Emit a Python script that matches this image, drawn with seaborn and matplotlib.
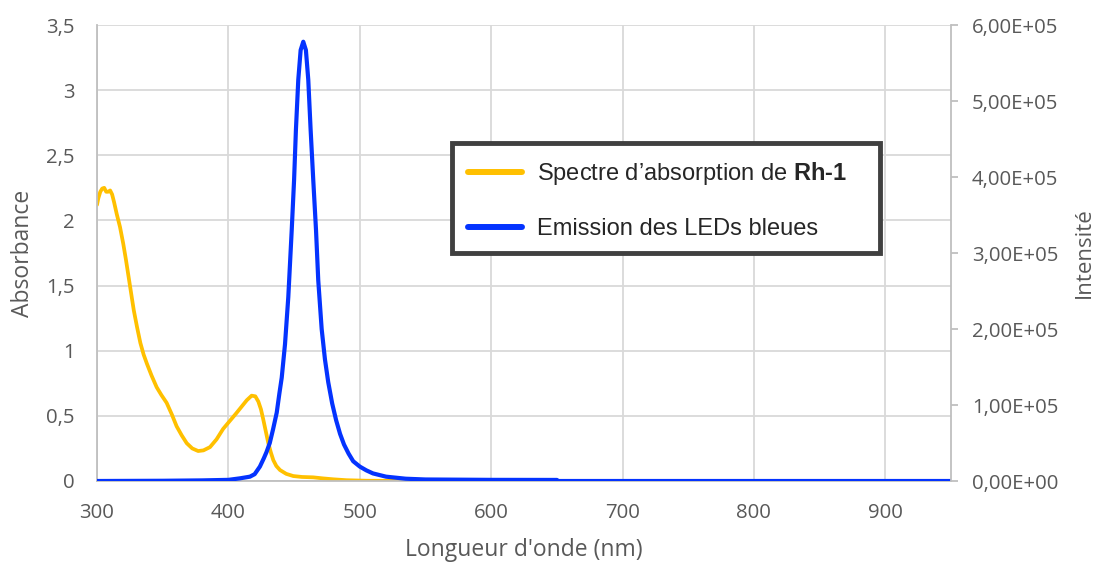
import numpy as np
import pandas as pd
import matplotlib
matplotlib.use("Agg")
import matplotlib.pyplot as plt
from matplotlib.lines import Line2D
from matplotlib.patches import Rectangle
from matplotlib.ticker import FuncFormatter, MultipleLocator
import seaborn as sns

# ---- data ----
abs_x = [300, 301, 302.5, 304, 305.5, 307, 308.5, 310, 311.5, 313, 315, 317.5,
         320, 322, 324, 326, 328, 330.5, 333, 335.5, 338, 341.5, 345.4, 349,
         353, 357, 360.6, 364.5, 368.3, 372.5, 377, 381, 386, 391, 396, 401,
         406, 410, 414, 417.7, 420.5, 422.8, 424.8, 426.6, 428.5, 430.4, 432.3,
         434.2, 436.5, 439.3, 444, 449.4, 456, 464.6, 472, 479.8, 490, 505,
         550, 600, 650]
abs_y = [2.12, 2.17, 2.22, 2.245, 2.25, 2.22, 2.22, 2.23, 2.20, 2.14, 2.05,
         1.95, 1.82, 1.70, 1.57, 1.44, 1.31, 1.18, 1.06, 0.97, 0.90, 0.81, 0.72,
         0.66, 0.60, 0.51, 0.42, 0.35, 0.29, 0.25, 0.23, 0.235, 0.26, 0.32,
         0.40, 0.46, 0.52, 0.57, 0.62, 0.655, 0.65, 0.61, 0.55, 0.47, 0.38,
         0.29, 0.22, 0.16, 0.115, 0.084, 0.055, 0.038, 0.031, 0.028, 0.02,
         0.013, 0.006, 0.002, 0.0, 0.0, 0.0]

em_x = [300, 350, 380, 400, 408.8, 416.4, 420, 424, 427, 429, 431.5, 434,
        436.8, 438.8, 440.6, 443.1, 445.6, 448.2, 450, 451.4, 453.2, 455, 457,
        459, 460.8, 462.6, 464.6, 466.7, 468.4, 471, 473.5, 476, 479, 482, 485,
        488, 491.5, 495, 500, 505, 510, 520, 535, 550, 600, 650, 651, 700, 800,
        950]
em_y = [0, 300, 800, 1500, 3500, 5700, 9000, 1.9e4, 3.0e4, 3.8e4, 5.0e4,
        6.8e4, 9.0e4, 1.15e5, 1.36e5, 1.8e5, 2.42e5, 3.3e5, 3.96e5, 4.62e5,
        5.28e5, 5.67e5, 5.78e5, 5.67e5, 5.28e5, 4.62e5, 3.96e5, 3.3e5, 2.64e5,
        2.0e5, 1.6e5, 1.3e5, 1.02e5, 8.0e4, 6.2e4, 4.8e4, 3.6e4, 2.6e4, 1.9e4,
        1.4e4, 1.0e4, 5.7e3, 3.0e3, 2.0e3, 1.5e3, 1.4e3, 0, 0, 0, 0]

x_ticks = [300, 400, 500, 600, 700, 800, 900]
label_abs = "Spectre d\u2019absorption de $\\mathbf{Rh\u20101}$"
label_em = "Emission des LEDs bleues"

df_abs = pd.DataFrame({"wl": abs_x, "A": abs_y})
df_em = pd.DataFrame({"wl": em_x, "I": em_y})

sns.set_style("white")
plt.rcParams["font.family"] = ["Open Sans", "DejaVu Sans"]
plt.rcParams["mathtext.fontset"] = "custom"
plt.rcParams["mathtext.bf"] = "Liberation Sans:bold"
plt.rcParams["mathtext.rm"] = "Liberation Sans"

YEL = "#FFC000"
BLU = "#0433FF"
GRID = "#D9D9D9"
SPINE = "#BFBFBF"
TXT = "#595959"

fig = plt.figure(figsize=(11.01, 5.62), dpi=100)
ax = fig.add_axes([97 / 1101, 1 - 481 / 562, (951 - 97) / 1101, (481 - 25) / 562])
ax2 = ax.twinx()

sns.lineplot(data=df_abs, x="wl", y="A", ax=ax, color=YEL, linewidth=2.7,
             legend=False)
sns.lineplot(data=df_em, x="wl", y="I", ax=ax2, color=BLU, linewidth=3.0,
             legend=False)
for ln in ax.lines + ax2.lines:
    ln.set_solid_joinstyle("round")
    ln.set_solid_capstyle("round")

ax.set_xlim(300, 950)
ax.set_ylim(0, 3.5)
ax2.set_ylim(0, 6e5)
ax.set_xticks(x_ticks)
ax.yaxis.set_major_locator(MultipleLocator(0.5))
ax2.yaxis.set_major_locator(MultipleLocator(1e5))

ax.yaxis.set_major_formatter(FuncFormatter(
    lambda v, p: ("%g" % v).replace(".", ",")))
ax2.yaxis.set_major_formatter(FuncFormatter(
    lambda v, p: "0,00E+00" if v == 0 else ("%.2fE+05" % (v / 1e5)).replace(".", ",")))

ax.grid(True, color=GRID, linewidth=1.3)
ax.set_axisbelow(True)
ax2.grid(False)

for a in (ax, ax2):
    for s in a.spines.values():
        s.set_visible(False)
ax.spines["left"].set_visible(True)
ax.spines["bottom"].set_visible(True)
ax2.spines["right"].set_visible(True)
for s in (ax.spines["left"], ax.spines["bottom"], ax2.spines["right"]):
    s.set_color(SPINE)
    s.set_linewidth(1.3)

ax.tick_params(axis="both", length=0, labelsize=14.7, labelcolor=TXT)
ax.tick_params(axis="y", pad=16)
ax.tick_params(axis="x", pad=16)
ax2.tick_params(axis="y", length=5, width=1.3, color=SPINE, labelsize=14.7,
                labelcolor=TXT, pad=10)

ax.set_xlabel("Longueur d'onde (nm)", fontsize=16.5, color=TXT, labelpad=11)
ax.set_ylabel("Absorbance", fontsize=16.5, color=TXT, labelpad=8)
ax2.set_ylabel("Intensité", fontsize=16, color=TXT, labelpad=11)

# legend box
box = Rectangle((0.4157, 0.5), 0.5012, 0.2412, transform=ax2.transAxes,
                facecolor="white", edgecolor="#404040", linewidth=3.5,
                zorder=4)
ax2.add_patch(box)

handles = [Line2D([], [], color=YEL, linewidth=4.3),
           Line2D([], [], color=BLU, linewidth=4.3)]
leg = ax2.legend(handles, [label_abs, label_em], loc="center left",
                 bbox_to_anchor=(0.4344, 0.6162), frameon=False,
                 prop={"family": "Liberation Sans", "size": 17},
                 handlelength=2.29, handletextpad=0.63, labelspacing=1.3,
                 borderpad=0, borderaxespad=0)
leg.set_zorder(6)

fig.savefig("out.png", dpi=100)
